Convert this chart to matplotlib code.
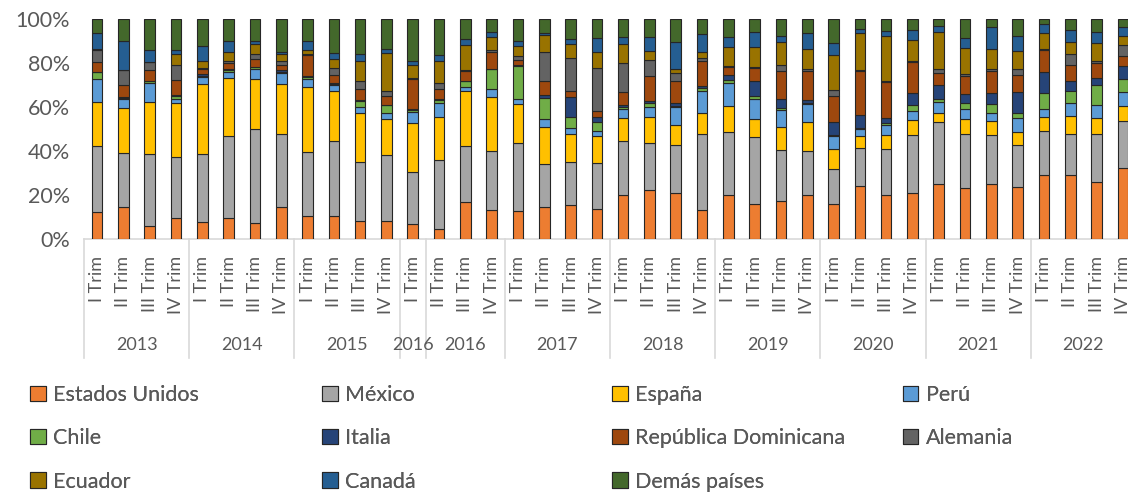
import matplotlib
matplotlib.use("Agg")
import matplotlib.pyplot as plt
import matplotlib.patches as mpatches
import matplotlib.transforms as mtransforms
import numpy as np

plt.rcParams["font.family"] = ["Lato", "DejaVu Sans"]

TEXT = "#595959"
GRID = "#D9D9D9"

# category axis: (year label, number of quarters in group)
groups = [("2013", 4), ("2014", 4), ("2015", 4), ("2016", 1), ("2016", 3),
          ("2017", 4), ("2018", 4), ("2019", 4), ("2020", 4), ("2021", 4),
          ("2022", 4)]
quarters = (["I Trim", "II Trim", "III Trim", "IV Trim"] * 3
            + ["I Trim", "II Trim", "III Trim", "IV Trim"]
            + ["I Trim", "II Trim", "III Trim", "IV Trim"] * 6)

series_names = ["Estados Unidos", "México", "España", "Perú", "Chile", "Italia",
                "República Dominicana", "Alemania", "Ecuador", "Canadá", "Demás países"]
series_colors = ["#ED7D31", "#A5A5A5", "#FFC000", "#5B9BD5", "#70AD47", "#264478",
                 "#9E480E", "#636363", "#997300", "#255E91", "#43682B"]

# shares (%) per quarter, one row per bar, columns in series order
shares = [
    [12.5, 29.9, 20.1, 10.3, 2.9, 0.3, 4.5, 5.4, 0.3, 7.6, 6.2],
    [14.6, 24.3, 20.5, 4.4, 0.3, 0.3, 5.7, 6.5, 0.0, 13.5, 9.9],
    [6.1, 32.5, 23.6, 8.6, 0.8, 0.3, 4.8, 3.7, 0.0, 5.5, 14.1],
    [9.7, 27.4, 24.5, 2.2, 1.2, 0.3, 6.9, 6.8, 5.3, 1.4, 14.3],
    [7.8, 30.8, 31.8, 3.2, 0.7, 0.5, 2.4, 0.6, 3.1, 6.8, 12.3],
    [9.7, 37.0, 26.7, 2.3, 1.2, 0.6, 2.4, 0.8, 4.3, 5.0, 10.0],
    [7.4, 42.4, 23.1, 4.3, 0.8, 0.4, 3.5, 2.4, 4.5, 1.2, 10.0],
    [14.6, 33.0, 22.9, 4.9, 0.7, 0.5, 2.4, 2.0, 2.9, 1.1, 15.0],
    [10.6, 28.8, 29.6, 3.9, 0.7, 0.4, 9.6, 0.7, 1.6, 4.2, 9.9],
    [10.3, 34.2, 22.8, 2.6, 0.6, 0.5, 3.6, 3.1, 4.1, 2.9, 15.3],
    [8.1, 26.9, 22.4, 2.8, 2.7, 0.3, 4.9, 3.5, 9.3, 3.0, 16.1],
    [8.1, 29.9, 16.4, 2.7, 3.7, 0.3, 4.1, 2.0, 17.3, 2.0, 13.5],
    [7.0, 23.5, 22.1, 5.2, 0.9, 0.6, 13.5, 0.5, 5.7, 1.9, 19.1],
    [4.7, 31.0, 19.9, 6.4, 1.2, 0.5, 4.4, 2.9, 9.7, 3.0, 16.3],
    [17.0, 25.1, 25.4, 1.6, 2.5, 0.4, 4.4, 0.5, 11.1, 2.9, 9.1],
    [13.1, 26.9, 24.4, 4.0, 8.8, 0.3, 7.5, 1.0, 5.6, 2.5, 5.9],
    [12.8, 30.7, 17.7, 2.3, 15.2, 0.3, 2.5, 1.8, 4.4, 2.1, 10.2],
    [14.4, 19.6, 16.8, 3.8, 9.4, 1.3, 6.7, 13.0, 7.7, 0.9, 6.4],
    [15.3, 19.5, 12.8, 2.7, 5.3, 8.8, 2.8, 15.0, 6.4, 2.3, 9.1],
    [13.7, 20.8, 12.3, 2.4, 4.0, 2.1, 2.9, 19.5, 7.1, 6.5, 8.7],
    [19.8, 24.9, 10.2, 4.4, 0.9, 0.6, 5.8, 13.6, 8.6, 3.0, 8.2],
    [22.5, 21.0, 11.8, 4.9, 1.8, 0.9, 11.4, 7.0, 4.0, 6.3, 8.4],
    [20.7, 21.9, 9.1, 8.2, 0.7, 1.1, 10.2, 3.5, 2.1, 12.0, 10.5],
    [13.4, 34.2, 9.5, 10.4, 1.2, 0.9, 11.3, 1.2, 2.9, 8.3, 6.7],
    [20.1, 28.5, 11.9, 10.3, 1.5, 2.2, 3.6, 0.6, 8.5, 4.4, 8.4],
    [15.7, 30.8, 7.9, 9.4, 1.2, 6.7, 6.0, 0.3, 9.5, 6.6, 5.9],
    [17.5, 22.8, 10.5, 7.7, 0.9, 4.1, 12.8, 2.7, 10.4, 2.7, 7.9],
    [19.8, 20.3, 13.2, 7.9, 0.5, 1.5, 13.2, 0.7, 9.2, 7.3, 6.4],
    [15.8, 15.8, 9.4, 5.8, 0.5, 5.9, 11.7, 2.7, 16.0, 5.3, 11.1],
    [24.3, 16.9, 5.6, 3.2, 0.6, 5.6, 20.2, 0.3, 16.9, 1.8, 4.6],
    [20.2, 20.7, 6.5, 4.3, 1.2, 2.1, 16.3, 0.4, 20.4, 2.4, 5.5],
    [21.1, 26.0, 6.9, 4.2, 2.7, 5.4, 14.1, 0.3, 9.7, 4.4, 5.2],
    [24.8, 28.2, 4.1, 5.2, 1.5, 6.1, 5.5, 2.0, 16.7, 2.7, 3.2],
    [23.4, 24.2, 6.8, 4.6, 2.7, 4.1, 8.5, 0.6, 11.9, 4.4, 8.8],
    [24.8, 22.3, 6.7, 3.6, 3.8, 5.1, 10.1, 0.7, 9.2, 10.1, 3.6],
    [23.6, 19.1, 5.9, 6.3, 2.5, 9.3, 7.8, 2.9, 7.9, 6.9, 7.8],
    [29.3, 19.6, 6.4, 3.7, 7.3, 9.5, 9.9, 0.5, 7.6, 4.1, 2.1],
    [28.9, 18.7, 8.5, 5.6, 5.8, 4.1, 7.4, 5.2, 5.5, 5.3, 5.0],
    [26.0, 21.6, 7.3, 6.2, 9.1, 3.1, 6.6, 0.8, 8.4, 5.1, 5.8],
    [32.5, 21.3, 6.8, 6.4, 5.9, 5.8, 4.7, 4.6, 4.4, 4.0, 3.6],
]

data = np.array(shares) / 100.0
n_bars = data.shape[0]
x = np.arange(n_bars)

fig = plt.figure(figsize=(11.28, 4.93), dpi=100)
fig.patch.set_facecolor("white")
# axes runs slightly past the right edge, as in the source (last bar clipped)
ax = fig.add_axes([84 / 1128, 254 / 493, 1052 / 1128, 220 / 493])

bottom = np.zeros(n_bars)
for i, (name, col) in enumerate(zip(series_names, series_colors)):
    ax.bar(x, data[:, i], bottom=bottom, width=0.4, color=col,
           edgecolor="#262626", linewidth=0.8, label=name, zorder=3)
    bottom += data[:, i]

ax.set_xlim(-0.5, n_bars - 0.5)
ax.set_ylim(0, 1)
ax.set_yticks(np.arange(0, 1.01, 0.2))
ax.set_yticklabels([f"{int(v * 100)}%" for v in np.arange(0, 1.01, 0.2)])
ax.tick_params(axis="y", length=0, pad=10, labelsize=15.5, colors=TEXT)

ax.set_xticks(x)
ax.set_xticklabels(quarters, rotation=90, va="top", ha="center")
ax.tick_params(axis="x", length=0, pad=12, labelsize=13, colors=TEXT)

for s in ["top", "right", "left"]:
    ax.spines[s].set_visible(False)
ax.spines["bottom"].set_color(GRID)
ax.spines["bottom"].set_linewidth(1.2)

# year level of the category axis
trans = mtransforms.blended_transform_factory(ax.transData, ax.transAxes)
edges = np.cumsum([0] + [g[1] for g in groups]) - 0.5
for (year, n), left in zip(groups, edges[:-1]):
    ax.text(left + n / 2, -0.48, year, transform=trans, ha="center",
            va="center", fontsize=13, color=TEXT, clip_on=False)
for e in edges:
    ax.plot([e, e], [0, -0.54], transform=trans, color=GRID, lw=1.2,
            clip_on=False, zorder=1)

# legend: four equal-width columns, three rows
handles = [mpatches.Patch(facecolor=c, edgecolor="#262626", linewidth=0.8, label=n)
           for n, c in zip(series_names, series_colors)]
col_x = [30 / 1128, 322 / 1128, 612 / 1128, 903 / 1128]
for c in range(4):
    hs = handles[c::4]
    leg = fig.legend(handles=hs, loc="upper left",
                     bbox_to_anchor=(col_x[c], 1 - 385 / 493),
                     frameon=False, fontsize=15.5, labelcolor=TEXT,
                     handlelength=0.72, handleheight=0.72, handletextpad=0.35,
                     labelspacing=1.08, borderaxespad=0, borderpad=0)
    fig.add_artist(leg)

fig.savefig("out.png", dpi=100, facecolor=fig.get_facecolor())
